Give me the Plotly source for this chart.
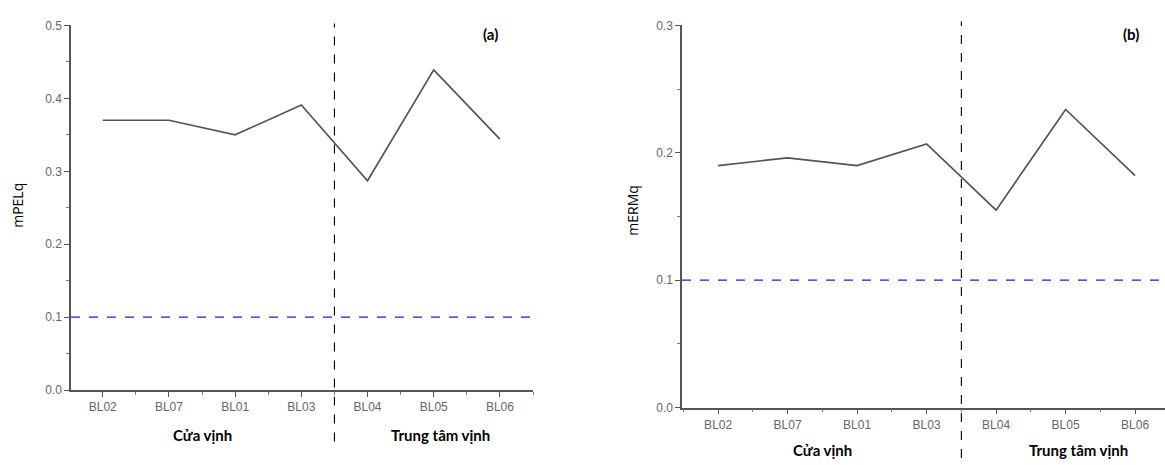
import plotly.graph_objects as go

stations = ["BL02", "BL07", "BL01", "BL03", "BL04", "BL05", "BL06"]
mpelq = [0.370, 0.370, 0.350, 0.391, 0.287, 0.439, 0.344]
mermq = [0.190, 0.196, 0.190, 0.207, 0.155, 0.234, 0.182]
threshold = 0.1
groups = ["Cửa vịnh", "Trung tâm vịnh"]
panel_labels = ["(a)", "(b)"]
y_titles = ["mPELq", "mERMq"]

W, H = 1165, 465
xs = list(range(len(stations)))

fig = go.Figure()
fig.add_trace(go.Scatter(x=xs, y=mpelq, mode="lines", line=dict(color="#555555", width=1.7),
                         xaxis="x", yaxis="y", showlegend=False))
fig.add_trace(go.Scatter(x=xs, y=mermq, mode="lines", line=dict(color="#555555", width=1.7),
                         xaxis="x2", yaxis="y2", showlegend=False))

tickfont = dict(family="Liberation Sans", size=12, color="#666666")
common_x = dict(tickmode="array", tickvals=xs, ticktext=stations, ticks="outside", ticklen=5,
                tickwidth=1.2, tickcolor="#555", showline=True, linecolor="#555", linewidth=1.5,
                showgrid=False, zeroline=False, tickfont=tickfont,
                minor=dict(tickvals=[i + 0.5 for i in range(-1, 7)], ticks="outside", ticklen=3,
                           tickcolor="#777", tickwidth=1))
common_y = dict(ticks="outside", ticklen=5, tickwidth=1.2, tickcolor="#555", showline=True,
                linecolor="#555", linewidth=1.5, showgrid=False, zeroline=False, tickfont=tickfont,
                tickformat=".1f", dtick=0.1,
                minor=dict(dtick=0.05, ticks="outside", ticklen=3, tickcolor="#777", tickwidth=1))

fig.update_layout(
    width=W, height=H, margin=dict(l=0, r=0, t=0, b=0),
    paper_bgcolor="white", plot_bgcolor="white",
    xaxis=dict(domain=[71 / W, 533 / W], range=[-0.48, 6.5], anchor="y", **common_x),
    yaxis=dict(domain=[1 - 395 / H, 1 - 19 / H], range=[0, 0.5], anchor="x", **common_y),
    xaxis2=dict(domain=[682 / W, 1.0], range=[-0.52, 6.43], anchor="y2", **common_x),
    yaxis2=dict(domain=[1 - 413 / H, 1 - 19 / H], range=[0, 0.3], anchor="x2", **common_y),
)

# threshold lines
fig.add_shape(type="line", xref="x domain", yref="y", x0=0, x1=1, y0=threshold, y1=threshold,
              line=dict(color="#1c1cd8", width=1.2, dash="dash"))
fig.add_shape(type="line", xref="x2 domain", yref="y2", x0=0, x1=1, y0=threshold, y1=threshold,
              line=dict(color="#1c1cd8", width=1.2, dash="dash"))
# separators between groups
fig.add_shape(type="line", xref="x", yref="paper", x0=3.5, x1=3.5, y0=1 - 448 / H, y1=1 - 17 / H,
              line=dict(color="black", width=1.1, dash="dash"))
fig.add_shape(type="line", xref="x2", yref="paper", x0=3.5, x1=3.5, y0=0, y1=1 - 15 / H,
              line=dict(color="black", width=1.1, dash="dash"))

bold = dict(family="Lato, Open Sans, sans-serif", size=15, color="black")
ctr = dict(showarrow=False, xanchor="center", yanchor="middle")
# group labels
fig.add_annotation(text="<b>" + groups[0] + "</b>", xref="x", yref="paper", x=1.5, y=1 - 441 / H,
                   font=bold, **ctr)
fig.add_annotation(text="<b>" + groups[1] + "</b>", xref="x", yref="paper", x=5.1, y=1 - 441 / H,
                   font=bold, **ctr)
fig.add_annotation(text="<b>" + groups[0] + "</b>", xref="x2", yref="paper", x=1.5, y=1 - 457 / H,
                   font=bold, **ctr)
fig.add_annotation(text="<b>" + groups[1] + "</b>", xref="x2", yref="paper", x=5.18, y=1 - 457 / H,
                   font=bold, **ctr)
# panel labels
fig.add_annotation(text="<b>" + panel_labels[0] + "</b>", xref="paper", yref="paper", x=490 / W,
                   y=1 - 28 / H, font=dict(family="Lato, sans-serif", size=15, color="black"), **ctr)
fig.add_annotation(text="<b>" + panel_labels[1] + "</b>", xref="paper", yref="paper", x=1131 / W,
                   y=1 - 28 / H, font=dict(family="Lato, sans-serif", size=15, color="black"), **ctr)
# y titles
fig.add_annotation(text=y_titles[0], xref="paper", yref="paper", x=18 / W, y=1 - 205 / H,
                   textangle=-90, font=dict(family="Open Sans, sans-serif", size=14, color="black"), **ctr)
fig.add_annotation(text=y_titles[1], xref="paper", yref="paper", x=633 / W, y=1 - 210 / H,
                   textangle=-90, font=dict(family="Open Sans, sans-serif", size=14, color="black"), **ctr)

fig.write_html("out.html")
